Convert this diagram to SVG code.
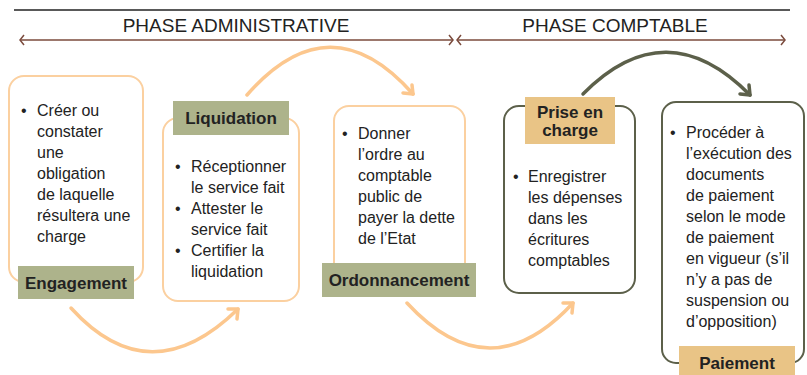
<svg xmlns="http://www.w3.org/2000/svg" width="807" height="375" viewBox="0 0 807 375">
<style>
.body{font-family:"Liberation Sans",Arial,sans-serif;font-size:16px;fill:#222}
.lbl{font-family:"Liberation Sans",Arial,sans-serif;font-size:17px;font-weight:bold;fill:#222;text-anchor:middle}
.phase{font-family:"Liberation Sans",Arial,sans-serif;font-size:19px;fill:#222;text-anchor:middle}
.boxO{fill:#fff;stroke:#fbd0a0;stroke-width:2}
.boxG{fill:#fff;stroke:#5c604a;stroke-width:2}
.tagG{fill:#adb38b}
.tagT{fill:#e9c486}
.arcO{fill:none;stroke:#fcc78e;stroke-width:3.5;stroke-linecap:round;stroke-linejoin:round}
.arcG{fill:none;stroke:#5c604a;stroke-width:3.5;stroke-linecap:round;stroke-linejoin:round}
.ph{fill:none;stroke:#7b4b3d;stroke-width:1.5}
</style>
<g id="header">
<line x1="14" y1="10" x2="790" y2="10" stroke="#222" stroke-width="1.5"/>
<text class="phase" x="236" y="32">PHASE ADMINISTRATIVE</text>
<text class="phase" x="615" y="32">PHASE COMPTABLE</text>
<line class="ph" x1="20" y1="40" x2="453" y2="40"/>
<polyline class="ph" points="24,35 20,40 24,45"/>
<polyline class="ph" points="449,35 453,40 449,45"/>
<line class="ph" x1="457" y1="40" x2="785" y2="40"/>
<polyline class="ph" points="461,35 457,40 461,45"/>
<polyline class="ph" points="781,35 785,40 781,45"/>
</g>
<g id="connectors">
<path class="arcO" d="M71,308 Q150,395 238,309"/>
<polyline class="arcO" points="228,309 238,309 237,319"/>
<path class="arcO" d="M247,95 Q330,0 413,94"/>
<polyline class="arcO" points="403,93 413,94 412,85"/>
<path class="arcO" d="M407,303 Q490,393 573,303"/>
<polyline class="arcO" points="563,303 573,303 572,313"/>
<path class="arcG" d="M583,94 Q666,10 750,95"/>
<polyline class="arcG" points="740,94 750,95 749,85"/>
</g>
<g id="engagement">
<rect class="boxO" x="9" y="76" width="134" height="206" rx="15"/>
<text class="body" x="21" y="116">•</text>
<text class="body"><tspan x="37" y="116">Créer ou</tspan><tspan x="37" dy="21">constater</tspan><tspan x="37" dy="21">une</tspan><tspan x="37" dy="21">obligation</tspan><tspan x="37" dy="21">de laquelle</tspan><tspan x="37" dy="21">résultera une</tspan><tspan x="37" dy="21">charge</tspan></text>
<rect class="tagG" x="18" y="266" width="116" height="33"/>
<text class="lbl" x="76" y="289">Engagement</text>
</g>
<g id="liquidation">
<rect class="boxO" x="163" y="118" width="136" height="183" rx="15"/>
<rect class="tagG" x="173" y="101" width="116" height="34"/>
<text class="lbl" x="231" y="124">Liquidation</text>
<text class="body"><tspan x="175" y="172">•</tspan><tspan x="175" y="214">•</tspan><tspan x="175" y="256">•</tspan></text>
<text class="body"><tspan x="191" y="172">Réceptionner</tspan><tspan x="191" dy="21">le service fait</tspan><tspan x="191" dy="21">Attester le</tspan><tspan x="191" dy="21">service fait</tspan><tspan x="191" dy="21">Certifier la</tspan><tspan x="191" dy="21">liquidation</tspan></text>
</g>
<g id="ordonnancement">
<rect class="boxO" x="334" y="106" width="131" height="175" rx="15"/>
<text class="body" x="342" y="139">•</text>
<text class="body"><tspan x="358" y="139">Donner</tspan><tspan x="358" dy="21">l’ordre au</tspan><tspan x="358" dy="21">comptable</tspan><tspan x="358" dy="21">public de</tspan><tspan x="358" dy="21">payer la dette</tspan><tspan x="358" dy="21">de l’Etat</tspan></text>
<rect class="tagG" x="322" y="263" width="154" height="34"/>
<text class="lbl" x="399" y="286">Ordonnancement</text>
</g>
<g id="prise-en-charge">
<rect class="boxG" x="504" y="106" width="131" height="187" rx="15"/>
<rect class="tagT" x="525" y="97" width="90" height="47"/>
<text class="lbl" x="570" y="118">Prise en</text>
<text class="lbl" x="570" y="136">charge</text>
<text class="body" x="513" y="182">•</text>
<text class="body"><tspan x="528" y="182">Enregistrer</tspan><tspan x="528" dy="21">les dépenses</tspan><tspan x="528" dy="21">dans les</tspan><tspan x="528" dy="21">écritures</tspan><tspan x="528" dy="21">comptables</tspan></text>
</g>
<g id="paiement">
<rect class="boxG" x="662" y="102" width="142" height="261" rx="14"/>
<text class="body" x="670" y="138">•</text>
<text class="body"><tspan x="686" y="138">Procéder à</tspan><tspan x="686" dy="21">l’exécution des</tspan><tspan x="686" dy="21">documents</tspan><tspan x="686" dy="21">de paiement</tspan><tspan x="686" dy="21">selon le mode</tspan><tspan x="686" dy="21">de paiement</tspan><tspan x="686" dy="21">en vigueur (s’il</tspan><tspan x="686" dy="21">n’y a pas de</tspan><tspan x="686" dy="21">suspension ou</tspan><tspan x="686" dy="21">d’opposition)</tspan></text>
<rect class="tagT" x="679" y="346" width="116" height="32"/>
<text class="lbl" x="737" y="369">Paiement</text>
</g>
</svg>
